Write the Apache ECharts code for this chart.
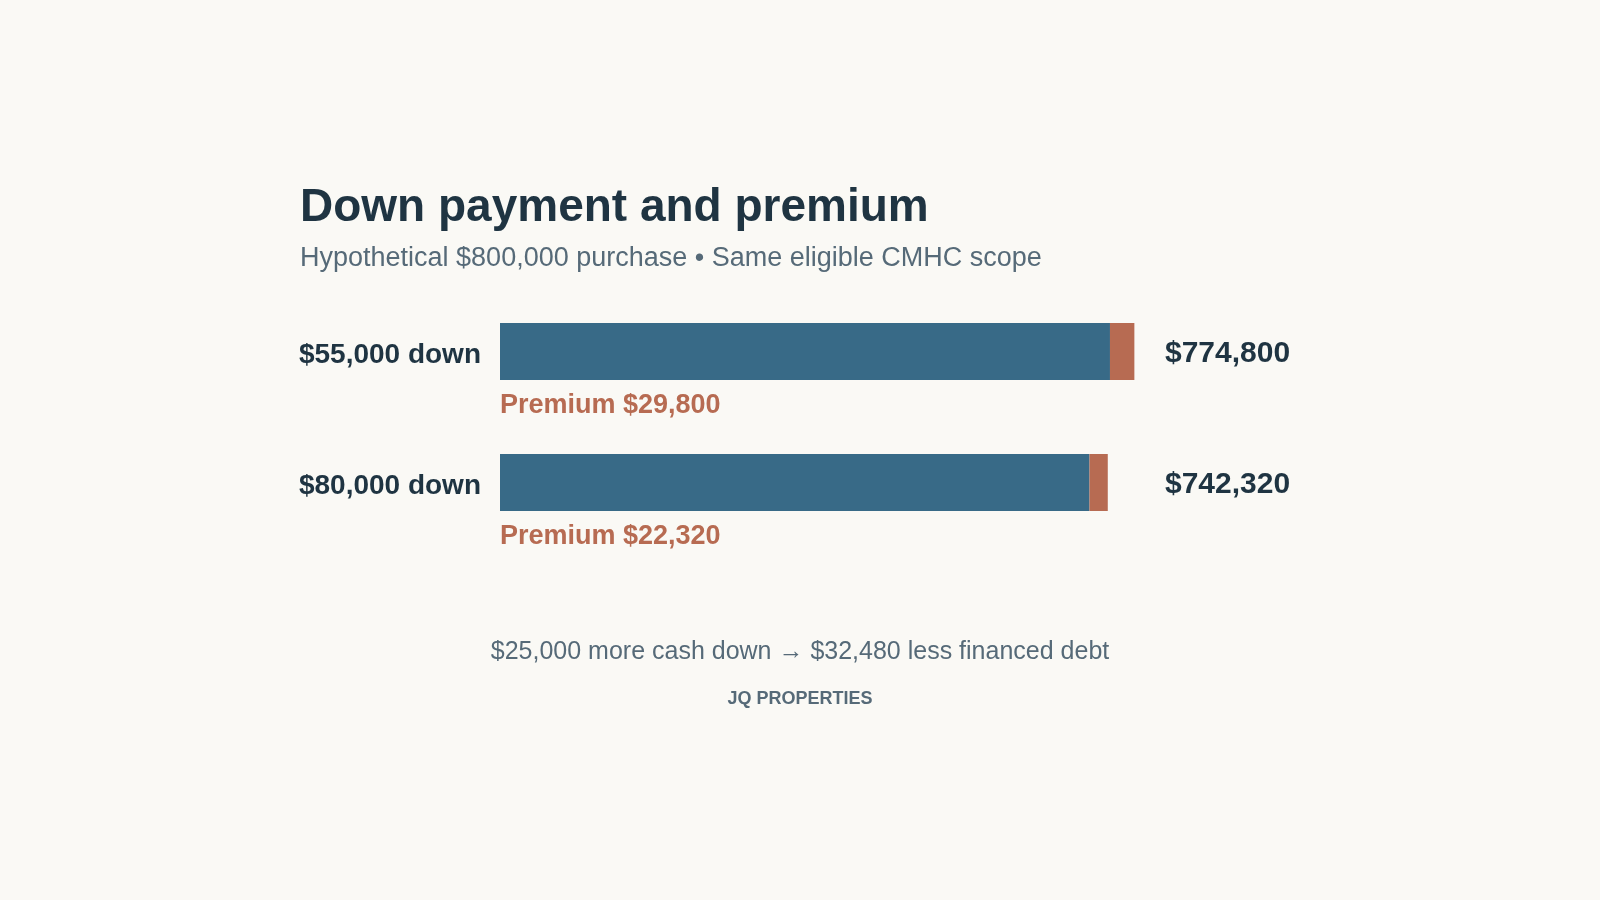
<!DOCTYPE html>
<html>
<head>
<meta charset="utf-8">
<title>Down payment and premium</title>
<script src="https://cdn.jsdelivr.net/npm/echarts@6/dist/echarts.min.js"></script>
<style>
  html, body { margin: 0; padding: 0; background: #faf9f5; }
  #chart { width: 1600px; height: 900px; }
</style>
</head>
<body>
<div id="chart"></div>
<script>
var purchasePrice = 800000;
var downLabels = ['$55,000 down', '$80,000 down'];
var baseMortgage = [745000, 720000];
var premiums = [29800, 22320];
var totals = [774800, 742320];

var font = '"Liberation Sans", Arial, Helvetica, sans-serif';
var dark = '#1f3442';
var grey = '#566a78';
var blue = '#386a87';
var rust = '#b76b52';

function money(v) {
	return '$' + v.toLocaleString('en-US');
}

var chart = echarts.init(document.getElementById('chart'));

var option = {
	backgroundColor: '#faf9f5',
	animation: false,
	title: {
		text: 'Down payment and premium',
		subtext: 'Hypothetical $800,000 purchase \u2022 Same eligible CMHC scope',
		left: 300,
		top: 185,
		padding: 0,
		itemGap: 14,
		textStyle: { fontFamily: font, fontSize: 46, fontWeight: 'bold', color: dark },
		subtextStyle: { fontFamily: font, fontSize: 27, color: grey }
	},
	grid: { left: 500, right: 445, top: 286, bottom: 352 },
	xAxis: {
		type: 'value',
		min: 0,
		max: purchasePrice,
		show: false
	},
	yAxis: [{
		type: 'category',
		inverse: true,
		data: downLabels,
		axisLine: { show: false },
		axisTick: { show: false },
		axisLabel: {
			margin: 19,
			formatter: '{a|{value}}',
			rich: {
				a: {
					padding: [8, 0, 0, 0],
					fontFamily: font, fontSize: 28, fontWeight: 'bold', color: dark
				}
			}
		}
	}, {
		type: 'category',
		position: 'right',
		inverse: true,
		data: totals.map(money),
		axisLine: { show: false },
		axisTick: { show: false },
		axisLabel: {
			margin: 10,
			align: 'left',
			formatter: '{a|{value}}',
			rich: {
				a: {
					padding: [4, 0, 0, 0],
					fontFamily: font, fontSize: 30, fontWeight: 'bold', color: dark
				}
			}
		}
	}],
	series: [{
		name: 'Mortgage',
		type: 'bar',
		stack: 'debt',
		barWidth: 57,
		data: baseMortgage,
		itemStyle: { color: blue },
		label: {
			show: true,
			position: [0, '100%'],
			offset: [0, 26],
			align: 'left',
			verticalAlign: 'middle',
			formatter: function (p) { return 'Premium ' + money(premiums[p.dataIndex]); },
			fontFamily: font, fontSize: 27, fontWeight: 'bold', color: rust
		}
	}, {
		name: 'Premium',
		type: 'bar',
		stack: 'debt',
		barWidth: 57,
		data: premiums,
		itemStyle: { color: rust }
	}],
	graphic: [{
		type: 'text',
		left: 'center',
		top: 640,
		style: {
			text: '$25,000 more cash down \u2192 $32,480 less financed debt',
			font: '25px ' + font,
			fill: grey
		}
	}, {
		type: 'text',
		left: 'center',
		top: 690,
		style: {
			text: 'JQ PROPERTIES',
			font: 'bold 18px ' + font,
			fill: grey
		}
	}]
};

chart.setOption(option);
</script>
</body>
</html>
